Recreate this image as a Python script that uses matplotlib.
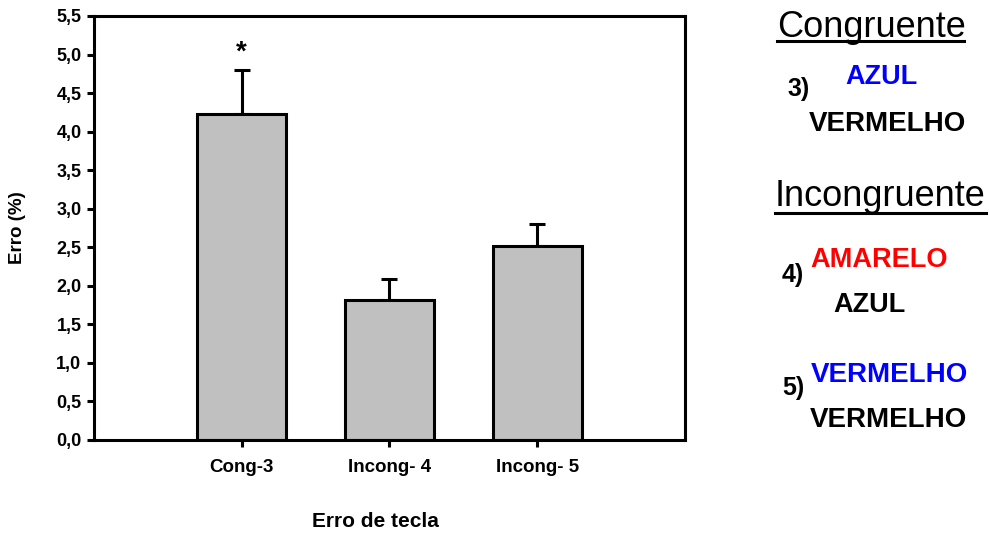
import matplotlib
matplotlib.use('Agg')
import matplotlib.pyplot as plt
import numpy as np

plt.rcParams['font.family'] = ['Liberation Sans', 'DejaVu Sans']

categorias = ['Cong-3', 'Incong- 4', 'Incong- 5']
erro = [4.23, 1.81, 2.52]
erro_sup = [0.57, 0.28, 0.28]
yticks = np.arange(0, 5.51, 0.5)


def main():
    fig = plt.figure(figsize=(9.89, 5.33), dpi=100)
    ax = fig.add_axes([0.095, 0.1745, 0.5976, 0.7955])

    x = np.arange(len(categorias))
    lw = 2.2
    ax.bar(x, erro, width=0.6, color='#c0c0c0', edgecolor='black', linewidth=lw, zorder=2)
    ax.errorbar(x, erro, yerr=[np.zeros(len(erro)), erro_sup], fmt='none', ecolor='black',
                elinewidth=lw, capsize=5.5, capthick=lw, zorder=1)
    ax.text(x[0], erro[0] + erro_sup[0] + 0.22, '*', ha='center', va='center',
            fontsize=20, fontweight='bold')

    ax.set_xlim(-1, 3)
    ax.set_ylim(0, 5.5)
    ax.set_xticks(x)
    ax.set_xticklabels(categorias, fontsize=13.5, fontweight='bold')
    ax.set_yticks(yticks)
    ax.set_yticklabels([f'{v:.1f}'.replace('.', ',') for v in yticks], fontsize=13, fontweight='bold')
    ax.tick_params(axis='both', direction='out', length=5, width=lw, color='black')
    ax.tick_params(axis='x', pad=9)
    ax.tick_params(axis='y', pad=4)
    for s in ax.spines.values():
        s.set_linewidth(lw)

    ax.set_ylabel('Erro (%)', fontsize=13.5, fontweight='bold')
    ax.yaxis.set_label_coords(-0.115, 0.5)
    ax.set_xlabel('Erro de tecla', fontsize=15, fontweight='bold')
    ax.xaxis.set_label_coords(0.477, -0.17)

    # legenda do lado direito
    def txt(xp, yp, s, size, color='black', weight='bold'):
        fig.text(xp / 989, 1 - yp / 533, s, fontsize=size, color=color, fontweight=weight,
                 ha='left', va='baseline')

    txt(777, 37, 'Congruente', 26, weight='normal')
    fig.add_artist(plt.Line2D([777 / 989, 964 / 989], [1 - 41 / 533, 1 - 41 / 533], color='black', lw=2.2))
    txt(787, 96, '3)', 18)
    txt(845, 84, 'AZUL', 19.5, color='#0000ff')
    txt(809, 131, 'VERMELHO', 20)

    txt(775, 206, 'Incongruente', 26, weight='normal')
    fig.add_artist(plt.Line2D([775 / 989, 986 / 989], [1 - 213 / 533, 1 - 213 / 533], color='black', lw=2.2))
    txt(782, 282, '4)', 18)
    txt(810, 267, 'AMARELO', 19.5, color='#ff0000')
    txt(833, 312, 'AZUL', 19.5)
    txt(782, 395, '5)', 18)
    txt(811, 382, 'VERMELHO', 20, color='#0000ff')
    txt(810, 427, 'VERMELHO', 20)

    plt.savefig('out.png', dpi=100)


if __name__ == "__main__":
    main()
